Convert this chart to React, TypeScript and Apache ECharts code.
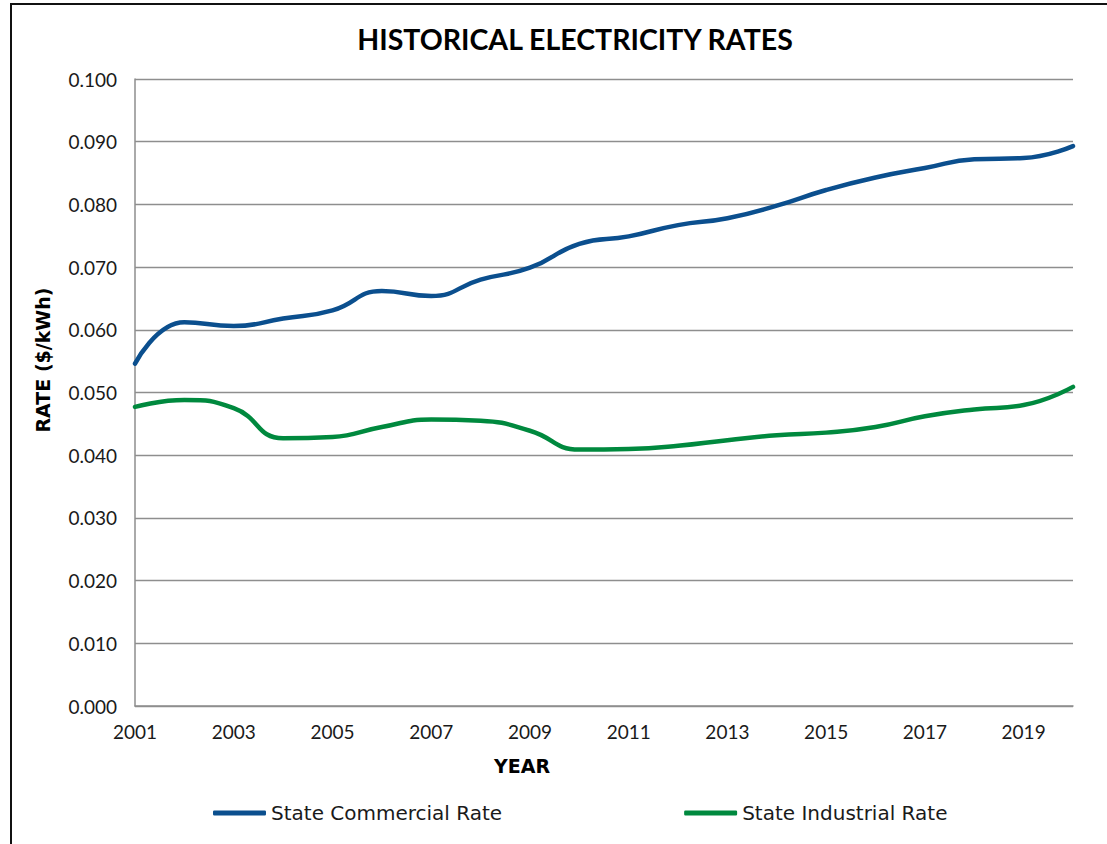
import React, { useEffect, useRef } from "react";
import * as echarts from "echarts";

const years = [
  "2001", "2002", "2003", "2004", "2005", "2006", "2007", "2008", "2009", "2010",
  "2011", "2012", "2013", "2014", "2015", "2016", "2017", "2018", "2019", "2020",
];
const commercialRate = [
  0.0546, 0.0612, 0.0606, 0.0618, 0.0631, 0.0662, 0.0654, 0.068, 0.0699, 0.0737,
  0.0749, 0.0767, 0.0778, 0.0798, 0.0823, 0.0843, 0.0858, 0.0872, 0.0874, 0.0893,
];
const industrialRate = [
  0.0477, 0.0488, 0.0475, 0.0427, 0.0429, 0.0445, 0.0457, 0.0455, 0.0439, 0.0409,
  0.041, 0.0415, 0.0424, 0.0432, 0.0436, 0.0445, 0.0462, 0.0473, 0.048, 0.0509,
];
const seriesNames = ["State Commercial Rate", "State Industrial Rate"];
const titleText = "HISTORICAL ELECTRICITY RATES";
const xAxisTitle = "YEAR";
const yAxisTitle = "RATE ($/kWh)";

const BLUE = "#0B4F8E";
const GREEN = "#00893E";
const GRID = "#8e8e8e";

export default function App() {
  const ref = useRef<HTMLDivElement>(null);
  useEffect(() => {
    if (!ref.current) return;
    const chart = echarts.init(ref.current, null, { renderer: "svg" });
    chart.setOption({
      animation: false,
      backgroundColor: "#ffffff",
      title: {
        text: titleText,
        left: 570,
        top: 19,
        textAlign: "center",
        textStyle: { fontFamily: "Lato", fontWeight: "bold", fontSize: 28.5, color: "#000" },
      },
      grid: { left: 135, right: 34, top: 79, bottom: 138, containLabel: false },
      legend: {
        data: seriesNames,
        left: 208,
        top: 798,
        icon: "roundRect",
        itemWidth: 53,
        itemHeight: 5,
        itemGap: 182,
        textStyle: { fontFamily: "DejaVu Sans", fontSize: 20, color: "#1a1a1a" },
      },
      xAxis: {
        type: "category",
        data: years,
        boundaryGap: false,
        axisTick: { show: false },
        axisLine: { show: true, lineStyle: { color: GRID, width: 1.5 } },
        axisLabel: {
          interval: 1,
          margin: 16,
          fontFamily: "Lato",
          fontSize: 19,
          color: "#1a1a1a",
        },
        splitLine: { show: false },
      },
      yAxis: {
        type: "value",
        min: 0,
        max: 0.1,
        interval: 0.01,
        axisTick: { show: false },
        axisLine: { show: true, lineStyle: { color: GRID, width: 1.5 } },
        axisLabel: {
          margin: 18,
          fontFamily: "Lato",
          fontSize: 19,
          color: "#1a1a1a",
          formatter: (v: number) => v.toFixed(3),
        },
        splitLine: { show: true, lineStyle: { color: GRID, width: 1.4 } },
      },
      series: [
        {
          name: seriesNames[0],
          type: "line",
          data: commercialRate,
          smooth: 0.5,
          symbol: "none",
          lineStyle: { color: BLUE, width: 4.5, cap: "round" },
          itemStyle: { color: BLUE },
        },
        {
          name: seriesNames[1],
          type: "line",
          data: industrialRate,
          smooth: 0.5,
          symbol: "none",
          lineStyle: { color: GREEN, width: 4.5, cap: "round" },
          itemStyle: { color: GREEN },
        },
      ],
      graphic: [
        {
          type: "rect",
          shape: { x: 11, y: 4, width: 1300, height: 1000 },
          style: { fill: "none", stroke: "#111", lineWidth: 2 },
          silent: true,
        },
        {
          type: "text",
          x: 522,
          y: 766,
          style: {
            text: xAxisTitle,
            fontFamily: "DejaVu Sans",
            fontWeight: "bold",
            fontSize: 19,
            fill: "#000",
            align: "center",
            verticalAlign: "middle",
          },
        },
        {
          type: "text",
          x: 43,
          y: 360,
          rotation: Math.PI / 2,
          style: {
            text: yAxisTitle,
            fontFamily: "DejaVu Sans",
            fontWeight: "bold",
            fontSize: 19,
            fill: "#000",
            align: "center",
            verticalAlign: "middle",
          },
        },
      ],
    });
    return () => chart.dispose();
  }, []);
  return (
    <div
      style={{
        position: "fixed",
        left: 0,
        top: 0,
        width: 1107,
        height: 844,
        overflow: "hidden",
        background: "#fff",
      }}
    >
      <div ref={ref} style={{ width: 1107, height: 844 }} />
    </div>
  );
}
